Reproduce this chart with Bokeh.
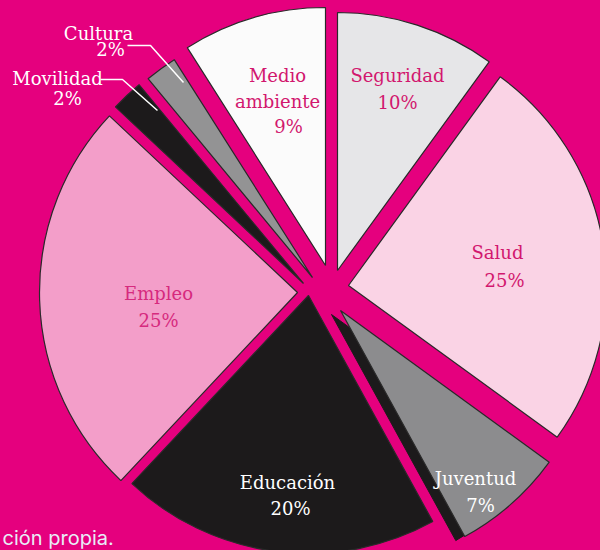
import math
from bokeh.plotting import figure
from bokeh.models import Range1d
from bokeh.embed import file_html
from bokeh.resources import INLINE
from bokeh.core.properties import value

# ---- data ----
categories = ["Seguridad", "Salud", "Juventud", "Educación", "Empleo",
              "Movilidad", "Cultura", "Medio ambiente"]
values = [10, 25, 7, 20, 25, 2, 2, 9]
name_lines = [["Seguridad"], ["Salud"], ["Juventud"], ["Educación"], ["Empleo"],
              ["Movilidad"], ["Cultura"], ["Medio", "ambiente"]]

# ---- style ----
BG = "#E5007E"
fill_colors = ["#E6E6E8", "#FAD3E5", "#8C8C8E", "#1C1A1B", "#F39EC9",
               "#1C1A1B", "#939394", "#FBFBFB"]
label_colors = ["#D2176E", "#D2176E", "#FFFFFF", "#FFFFFF", "#D62A7E",
                "#FFFFFF", "#FFFFFF", "#D2176E"]
CENTER = (322, 284)          # page pixels
RADIUS = 258
# explode offsets in pixels (right, down)
offsets = [(15, -14), (26, 1), (18, 26), (-14, 11), (-25, 8),
           (-19, -1), (-10, -7), (3, -19)]
# label line centres in page pixels (name lines..., percent line)
label_pos = [
    [(397, 75), (397, 102)],
    [(497, 252), (504, 280)],
    [(475, 478), (480, 505)],
    [(287, 482), (290, 508)],
    [(158, 293), (158, 320)],
    [(57, 78), (67, 98)],
    [(98, 33), (110, 49)],
    [(277, 75), (277, 101), (288, 126)],
]
leaders = {
    "Cultura": [(127, 45), (150, 45), (183, 82)],
    "Movilidad": [(100, 79), (122, 79), (157, 110)],
}

W, H = 600, 550


def Y(py):
    return H - py


p = figure(width=W, height=H, output_backend="svg", toolbar_location=None,
           x_range=Range1d(0, W), y_range=Range1d(0, H), min_border=0)
p.axis.visible = False
p.grid.visible = False
p.outline_line_color = None
p.background_fill_color = BG
p.border_fill_color = BG

total = float(sum(values))
cum = 0.0
for i, v in enumerate(values):
    a_hi = math.radians(90 - cum / total * 360)
    a_lo = math.radians(90 - (cum + v) / total * 360)
    cum += v
    dx, dy = offsets[i]
    cx = CENTER[0] + dx
    cy = Y(CENTER[1] + dy)
    if categories[i] == "Juventud":
        # dark shadow under the grey slice
        p.wedge(x=cx - 9, y=cy - 4, radius=RADIUS, start_angle=a_lo, end_angle=a_hi,
                direction="anticlock", fill_color="#1C1A1B", line_color="#1C1A1B",
                line_width=1)
    p.wedge(x=cx, y=cy, radius=RADIUS, start_angle=a_lo, end_angle=a_hi,
            direction="anticlock", fill_color=fill_colors[i], line_color="#2A2A2A",
            line_width=1.2)

# leader lines
for name, pts in leaders.items():
    p.line(x=[q[0] for q in pts], y=[Y(q[1]) for q in pts], line_color="#FFFFFF",
           line_width=1.5)

# labels
for i, cat in enumerate(categories):
    lines = name_lines[i] + [f"{values[i]}%"]
    for txt, (lx, ly) in zip(lines, label_pos[i]):
        p.text(x=[lx], y=[Y(ly)], text=[txt], text_align="center",
               text_baseline="middle", text_font=value("DejaVu Serif"),
               text_font_size="18px", text_color=label_colors[i])

# source note (cropped)
p.text(x=[2], y=[Y(537)], text=["ción propia."], text_align="left",
       text_baseline="middle", text_font=value("Inter"), text_font_size="20px",
       text_color="#E8EDF7")

html = file_html(p, INLINE)
html = html.replace("<head>", "<head><style>body{background:%s;}</style>" % BG, 1)
open("out.html", "w").write(html)
